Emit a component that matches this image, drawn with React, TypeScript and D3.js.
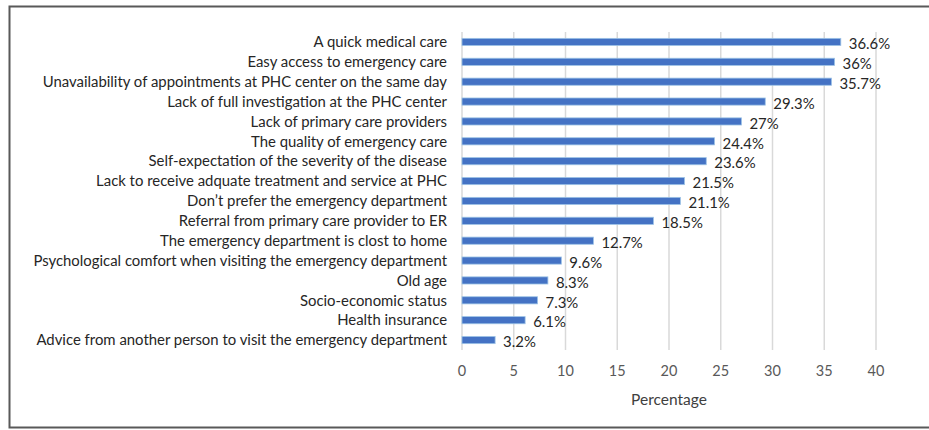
import React from "react";
import * as d3 from "d3";

const categories = [
  "A quick medical care",
  "Easy access to emergency care",
  "Unavailability of appointments at PHC center on the same day",
  "Lack of full investigation at the PHC center",
  "Lack of primary care providers",
  "The quality of emergency care",
  "Self-expectation of the severity of the disease",
  "Lack to receive adquate treatment and service at PHC",
  "Don\u2019t prefer the emergency department",
  "Referral from primary care provider to ER",
  "The emergency department is clost to home",
  "Psychological comfort when visiting the emergency department",
  "Old age",
  "Socio-economic status",
  "Health insurance",
  "Advice from another person to visit the emergency department",
];
const values = [36.6, 36, 35.7, 29.3, 27, 24.4, 23.6, 21.5, 21.1, 18.5, 12.7, 9.6, 8.3, 7.3, 6.1, 3.2];
const valueLabels = ["36.6%", "36%", "35.7%", "29.3%", "27%", "24.4%", "23.6%", "21.5%", "21.1%", "18.5%", "12.7%", "9.6%", "8.3%", "7.3%", "6.1%", "3.2%"];
const xTicks = [0, 5, 10, 15, 20, 25, 30, 35, 40];

const font = "Lato, 'Open Sans', sans-serif";

export default function App() {
  const x = d3.scaleLinear().domain([0, 40]).range([462, 876]);
  const y = d3.scaleBand<number>().domain(d3.range(categories.length)).range([32, 350]).paddingInner(0.64).paddingOuter(0.32);
  const plotTop = 32;
  const plotBottom = 350;

  return (
    <svg width={929} height={430} style={{ position: "absolute", left: 0, top: 0, background: "#fff" }}>
      <rect x={9.5} y={6.5} width={930} height={421} fill="#fff" stroke="#595959" strokeWidth={2} />
      {xTicks.map((t) => (
        <line key={t} x1={x(t)} x2={x(t)} y1={plotTop} y2={plotBottom} stroke="#d9d9d9" strokeWidth={1.5} />
      ))}
      {values.map((v, i) => (
        <rect
          key={i}
          x={x(0)}
          y={y(i)!}
          width={x(v) - x(0)}
          height={y.bandwidth()}
          fill="#4472c4"
          stroke="#9dc3e6"
          strokeWidth={0.8}
        />
      ))}
      {categories.map((c, i) => (
        <text key={c} x={447} y={y(i)! + y.bandwidth() / 2} dy="0.35em" textAnchor="end" fontFamily={font} fontSize={14.9} fill="#262626">
          {c}
        </text>
      ))}
      {values.map((v, i) => (
        <text key={i} x={x(v) + 8} y={y(i)! + y.bandwidth() / 2 + 2} dy="0.35em" fontFamily={font} fontSize={14.9} fill="#262626">
          {valueLabels[i]}
        </text>
      ))}
      {xTicks.map((t) => (
        <text key={t} x={x(t)} y={371} dy="0.35em" textAnchor="middle" fontFamily={font} fontSize={14.5} fill="#595959">
          {t}
        </text>
      ))}
      <text x={x(20)} y={400} dy="0.35em" textAnchor="middle" fontFamily={font} fontSize={15.5} fill="#404040">
        Percentage
      </text>
    </svg>
  );
}
